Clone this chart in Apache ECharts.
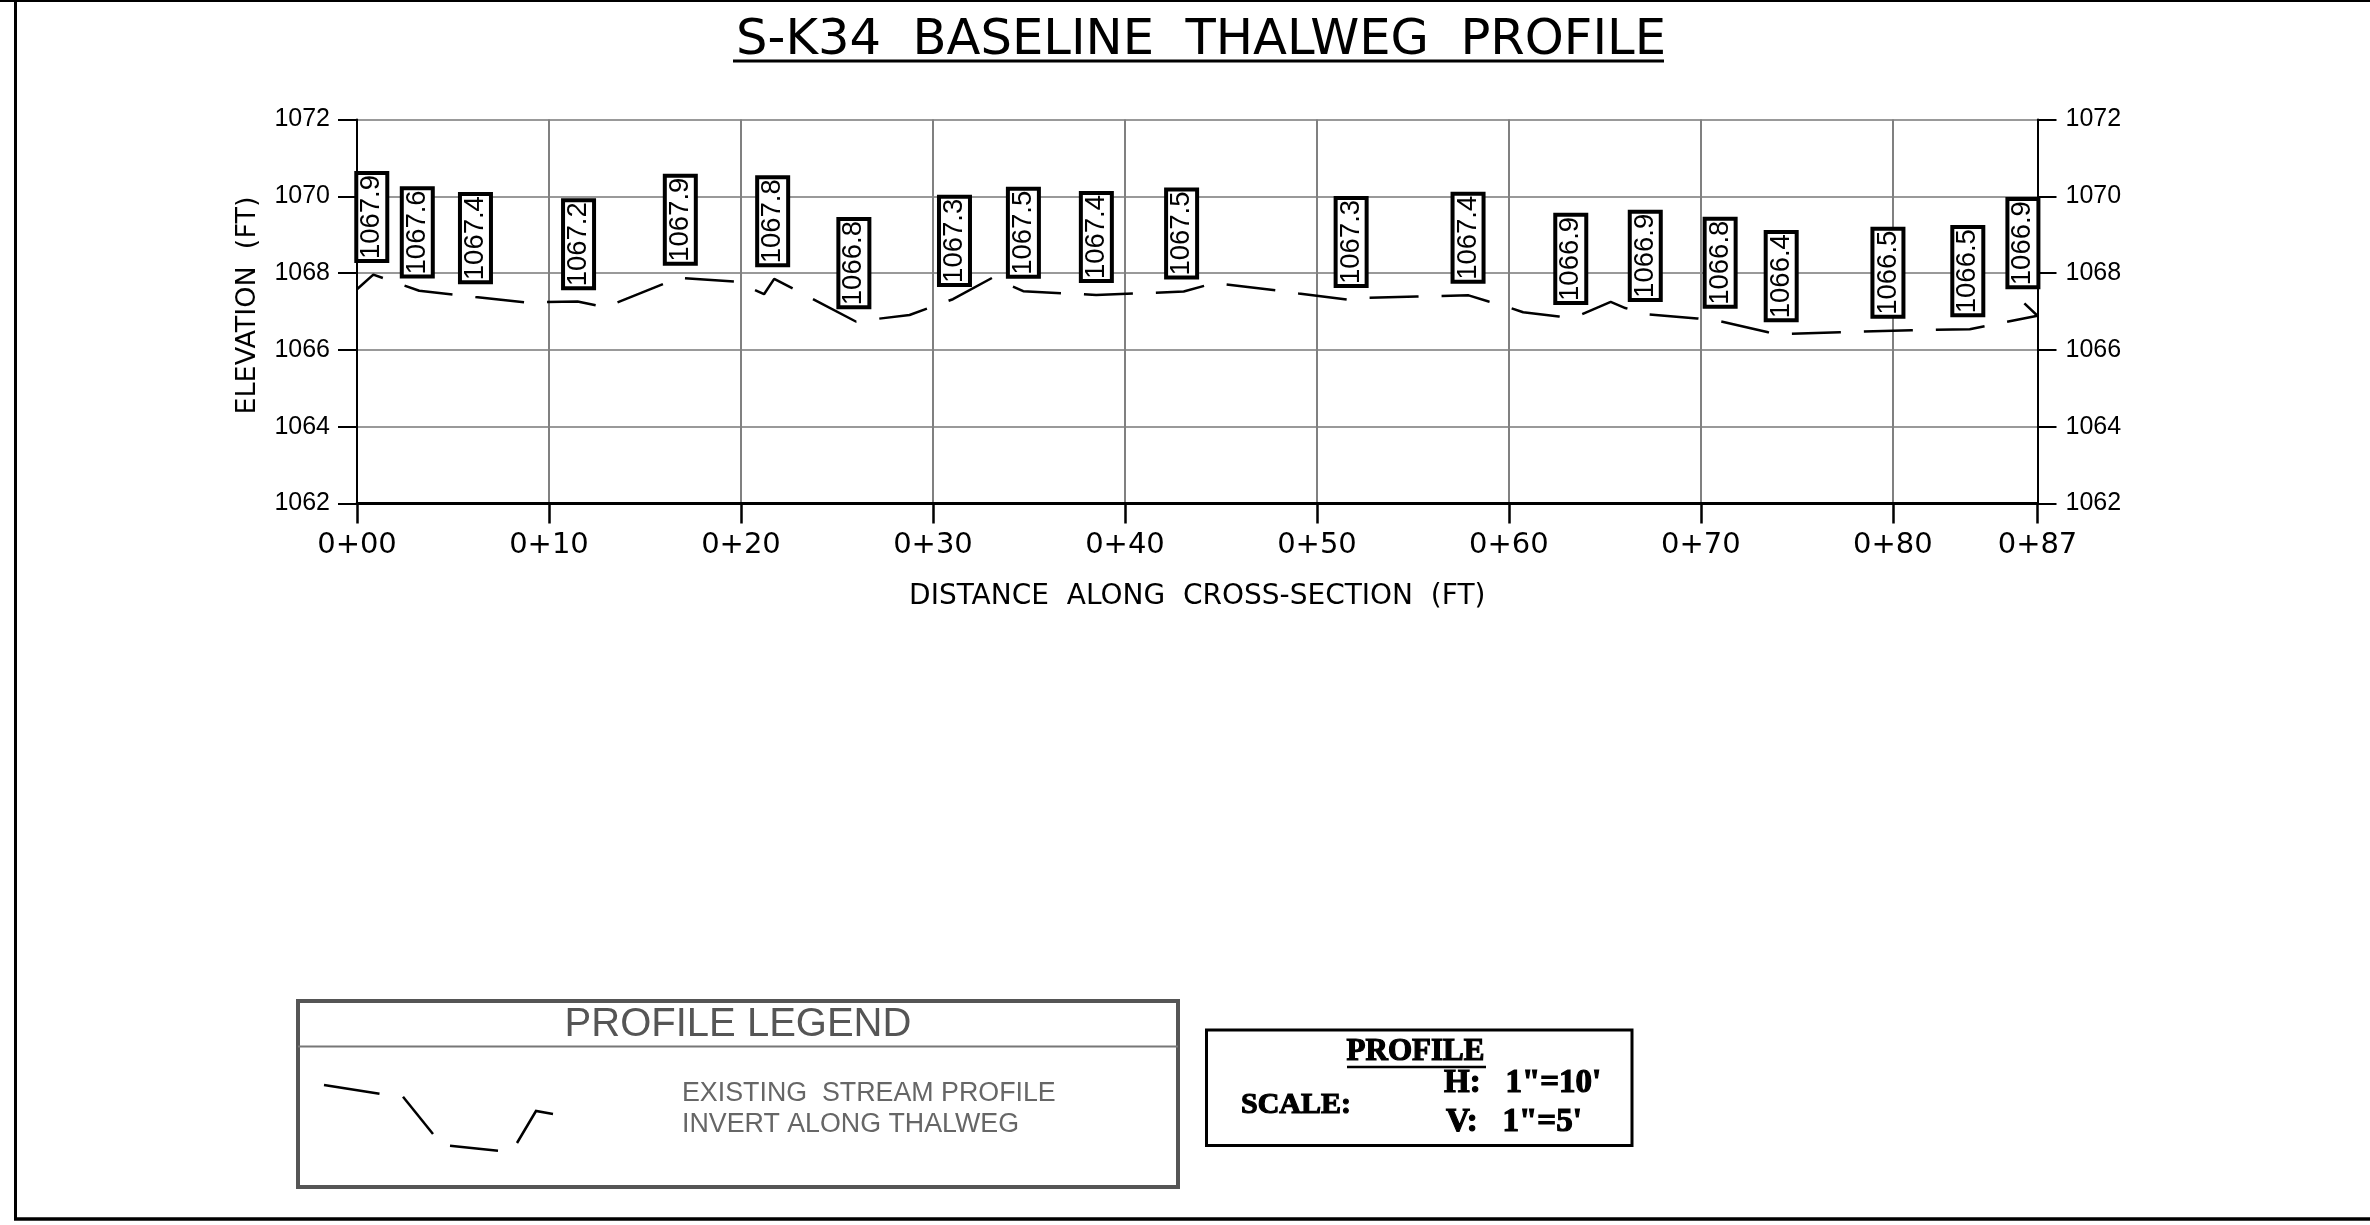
<!DOCTYPE html>
<html><head><meta charset="utf-8">
<style>html,body{margin:0;padding:0;background:#fff}#c{width:2370px;height:1225px}</style>
<script src="https://cdn.jsdelivr.net/npm/echarts@6/dist/echarts.min.js"></script>
</head><body><div id="c"></div>
<script>
const titleText = 'S-K34  BASELINE  THALWEG  PROFILE';
const xAxisName = 'DISTANCE  ALONG  CROSS-SECTION  (FT)';
const yAxisName = 'ELEVATION  (FT)';
const stationEnd = 87.53;
const stationEndLabel = '0+87';

// thalweg polyline
const profileStations = [0,0.85,3.24,6.17,8.75,11.49,12.95,15.96,16.9,19.73,21.2,21.73,22.7,25.98,28.78,29.65,31.04,33.1,34.7,38.5,43.06,44.65,47.85,49.05,51.57,52.63,55.2,57.9,58.94,60.1,60.74,62.6,63,63.8,65.3,66.06,67.3,69.8,70.98,73.5,74.1,77.24,80.97,84,87.53,86.7];
const profileElev = [1067.58,1067.96,1067.54,1067.38,1067.24,1067.26,1067.11,1067.72,1067.87,1067.78,1067.45,1067.85,1067.6,1066.74,1066.91,1067.07,1067.32,1067.88,1067.53,1067.43,1067.52,1067.74,1067.55,1067.47,1067.31,1067.36,1067.39,1067.42,1067.26,1067.09,1066.98,1066.87,1066.84,1066.93,1067.25,1067.09,1066.92,1066.82,1066.75,1066.46,1066.41,1066.46,1066.51,1066.54,1066.89,1067.28];

// callout boxes: station, printed elevation, elevation of the box centre
const calloutStations = [0.77,3.14,6.17,11.54,16.84,21.65,25.88,31.12,34.71,38.51,42.95,51.78,57.87,63.22,67.1,71.0,74.18,79.74,83.9,86.77];
const calloutText = ['1067.9','1067.6','1067.4','1067.2','1067.9','1067.8','1066.8','1067.3','1067.5','1067.4','1067.5','1067.3','1067.4','1066.9','1066.9','1066.8','1066.4','1066.5','1066.5','1066.9'];
const calloutCentre = [1069.46,1069.06,1068.91,1068.75,1069.39,1069.35,1068.26,1068.84,1069.05,1068.94,1069.03,1068.81,1068.92,1068.37,1068.45,1068.27,1067.92,1068.01,1068.05,1068.78];

const SANS = '"Liberation Sans", Arial, sans-serif';
const CAD = '"DejaVu Sans", sans-serif';
const SERIF = '"Liberation Serif", serif';

const stationLabel = v => {
  if (Math.abs(v - stationEnd) < 1e-6) return stationEndLabel;
  return '0+' + String(Math.round(v)).padStart(2, '0');
};

const frameLine = (x1,y1,x2,y2,w,c) => ({type:'line',silent:true,shape:{x1,y1,x2,y2},style:{stroke:c||'#000',lineWidth:w}});
const box = (x,y,width,height,w,c) => ({type:'rect',silent:true,shape:{x,y,width,height},style:{fill:'#fff',stroke:c,lineWidth:w}});
const text = (x,y,t,font,c,extra) => ({type:'text',silent:true,x,y,style:Object.assign({text:t,font,fill:c,verticalAlign:'middle'},extra||{})});
const heavy = {stroke:'#000',lineWidth:1.2};
const sampleDash = pts => ({type:'polyline',silent:true,shape:{points:pts},style:{stroke:'#000',lineWidth:2.5,fill:null}});

const sharedY = {type:'value',min:1062,max:1072,interval:2};
const yLabelLeft = {fontFamily:SANS,fontSize:25,color:'#000',margin:27,padding:[3,0,0,0],formatter:v=>String(v)};
const yLabelRight = Object.assign({},yLabelLeft,{margin:28});
const chart = echarts.init(document.getElementById('c'),null,{renderer:'canvas'});
chart.setOption({
  animation:false,
  backgroundColor:'#fff',
  title:{text:titleText,left:1196,top:11,textAlign:'center',
    textStyle:{fontFamily:CAD,fontSize:49.6,fontWeight:'normal',color:'#000'}},
  grid:{left:357,top:119.5,width:1680.5,height:384,containLabel:false},
  xAxis:{type:'value',min:0,max:stationEnd,interval:10,
    name:xAxisName,nameLocation:'middle',nameGap:79,
    nameTextStyle:{fontFamily:CAD,fontSize:28,color:'#000'},
    axisLine:{onZero:false,lineStyle:{color:'#000',width:3}},
    axisTick:{show:true,length:20,lineStyle:{color:'#000',width:2.5}},
    axisLabel:{formatter:stationLabel,fontFamily:CAD,fontSize:29,color:'#000',margin:27,showMinLabel:true,showMaxLabel:true},
    splitLine:{show:true,lineStyle:{color:'#808080',width:2}}},
  yAxis:[
    Object.assign({},sharedY,{position:'left',
      name:yAxisName,nameLocation:'middle',nameGap:96,
      nameTextStyle:{fontFamily:CAD,fontSize:27,color:'#000',padding:[0,0,0,12]},
      axisLine:{show:true,onZero:false,lineStyle:{color:'#000',width:2}},
      axisTick:{show:true,length:19,lineStyle:{color:'#000',width:2}},
      axisLabel:yLabelLeft,
      splitLine:{show:true,lineStyle:{color:'#999',width:2}}}),
    Object.assign({},sharedY,{position:'right',
      axisLine:{show:true,onZero:false,lineStyle:{color:'#000',width:2}},
      axisTick:{show:true,length:19,lineStyle:{color:'#000',width:2}},
      axisLabel:yLabelRight,
      splitLine:{show:false}})
  ],
  series:[
    {type:'line',name:'Existing stream profile',z:3,
     data:profileStations.map((s,i)=>[s,profileElev[i]]),
     showSymbol:false,smooth:false,clip:false,sampling:false,
     lineStyle:{color:'#000',width:2.5,type:[49,23],dashOffset:17,cap:'butt'}},
    {type:'scatter',name:'Callouts',z:4,symbolSize:1,
     itemStyle:{color:'#fff',opacity:1,borderWidth:0},
     data:calloutStations.map((s,i)=>({value:[s,calloutCentre[i]],text:calloutText[i]})),
     label:{show:true,position:'inside',rotate:90,opacity:1,
       formatter:p=>p.data.text,
       fontFamily:SANS,fontSize:27.5,color:'#000',textBorderWidth:0,textBorderColor:'transparent',
       backgroundColor:'#fff',borderColor:'#000',borderWidth:4,
       padding:[7,0,0,0],lineHeight:20}}
  ],
  graphic:{elements:[
    frameLine(0,1,2370,1,2),
    frameLine(15.5,0,15.5,1220,3),
    frameLine(14,1219,2370,1219,3.5),
    frameLine(733,61,1664,61,3),
    box(298,1001,880,186,4,'#555'),
    frameLine(298,1046.5,1178,1046.5,2,'#777'),
    text(738,1025,'PROFILE LEGEND','40px '+SANS,'#555',{align:'center'}),
    text(682,1094,'EXISTING  STREAM PROFILE','26.8px '+SANS,'#666'),
    text(682,1125,'INVERT ALONG THALWEG','26.8px '+SANS,'#666'),
    sampleDash([[324,1085],[379.5,1093.7]]),
    sampleDash([[403,1096.7],[433,1134]]),
    sampleDash([[450,1145.7],[498,1150.7]]),
    sampleDash([[517,1143],[536,1111],[553,1114]]),
    box(1206.5,1030,425.5,115.5,3,'#000'),
    text(1415.5,1052,'PROFILE','bold 31px '+SERIF,'#000',Object.assign({align:'center'},heavy)),
    frameLine(1347,1067,1486,1067,2.5),
    text(1241,1105,'SCALE:','bold 30px '+SERIF,'#000',heavy),
    text(1444,1083.5,'H:   1"=10\'','bold 33px '+SERIF,'#000',heavy),
    text(1446,1122.5,'V:   1"=5\'','bold 33px '+SERIF,'#000',heavy)
  ]}
});
</script></body></html>
